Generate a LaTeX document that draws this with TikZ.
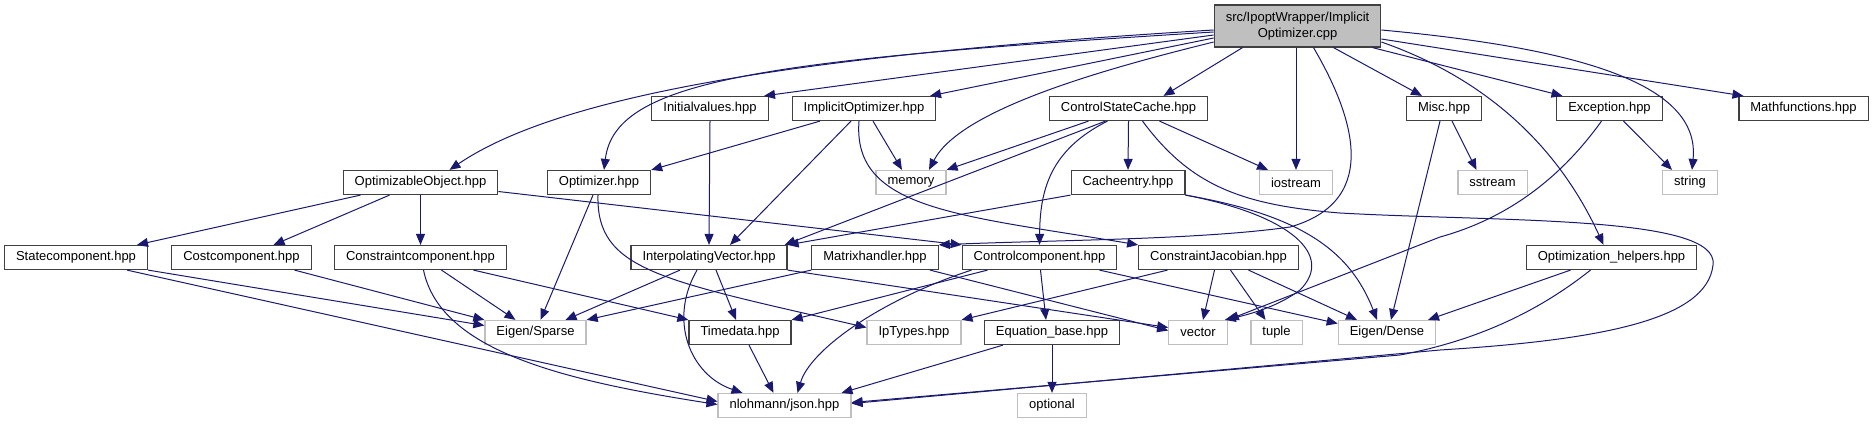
\documentclass[tikz,border=0pt]{standalone}
\usepackage{fontspec}
\setmainfont{Liberation Sans}
\usetikzlibrary{arrows.meta}
\tikzset{
    incblock/.style={rectangle, draw=#1, fill=white, line width=1.2pt, minimum height=24pt, inner xsep=11.5pt, inner ysep=0pt, font=\fontsize{13}{16}\selectfont},
    incroot/.style={incblock=hdrgray, fill=rootgray, minimum height=42pt, align=center},
    incarrow/.style={-{Triangle[length=11pt, width=9pt]}, draw=depblue, line width=1pt}
}
\definecolor{depblue}{RGB}{25,25,112}
\definecolor{hdrgray}{RGB}{64,64,64}
\definecolor{sysgray}{RGB}{191,191,191}
\definecolor{rootgray}{RGB}{191,191,191}

\begin{document}
\begin{tikzpicture}[x=1pt, y=-1pt]
\useasboundingbox (0,0) rectangle (1873,425);

\node[incroot] (root) at (1297.5,26) {src/IpoptWrapper/Implicit\\Optimizer.cpp};

\node[incblock=hdrgray] (initv) at (710,108.5) {Initialvalues.hpp};
\node[incblock=hdrgray] (implopt) at (864,108.5) {ImplicitOptimizer.hpp};
\node[incblock=hdrgray] (csc) at (1128.5,108.5) {ControlStateCache.hpp};
\node[incblock=hdrgray] (misc) at (1444,108.5) {Misc.hpp};
\node[incblock=hdrgray] (exc) at (1609.5,108.5) {Exception.hpp};
\node[incblock=hdrgray] (mathf) at (1803.5,108.5) {Mathfunctions.hpp};

\node[incblock=hdrgray] (optobj) at (420.5,182.5) {OptimizableObject.hpp};
\node[incblock=hdrgray] (optim) at (599,182.5) {Optimizer.hpp};
\node[incblock=sysgray] (memory) at (911,182.5) {memory};
\node[incblock=hdrgray] (cacheent) at (1128,182.5) {Cacheentry.hpp};
\node[incblock=sysgray] (iostream) at (1296,182.5) {iostream};
\node[incblock=sysgray] (sstream) at (1492.5,182.5) {sstream};
\node[incblock=sysgray] (string) at (1690,182.5) {string};

\node[incblock=hdrgray] (statec) at (76,257.5) {Statecomponent.hpp};
\node[incblock=hdrgray] (costc) at (241.5,257.5) {Costcomponent.hpp};
\node[incblock=hdrgray] (consc) at (420.5,257.5) {Constraintcomponent.hpp};
\node[incblock=hdrgray] (interp) at (709,257.5) {InterpolatingVector.hpp};
\node[incblock=hdrgray] (matrixh) at (875,257.5) {Matrixhandler.hpp};
\node[incblock=hdrgray] (controlc) at (1039.5,257.5) {Controlcomponent.hpp};
\node[incblock=hdrgray] (consjac) at (1218.5,257.5) {ConstraintJacobian.hpp};
\node[incblock=hdrgray] (opthelp) at (1611.5,257.5) {Optimization\_helpers.hpp};

\node[incblock=sysgray] (sparse) at (535.5,332.5) {Eigen/Sparse};
\node[incblock=hdrgray] (timed) at (740,332.5) {Timedata.hpp};
\node[incblock=sysgray] (iptypes) at (914,332.5) {IpTypes.hpp};
\node[incblock=hdrgray] (eqbase) at (1052,332.5) {Equation\_base.hpp};
\node[incblock=sysgray] (vector) at (1198,332.5) {vector};
\node[incblock=sysgray] (tuple) at (1276.5,332.5) {tuple};
\node[incblock=sysgray] (dense) at (1387,332.5) {Eigen/Dense};

\node[incblock=sysgray] (json) at (784.5,405.5) {nlohmann/json.hpp};
\node[incblock=sysgray] (optional) at (1052,405.5) {optional};

% includes of the source file
\draw[incarrow] ([yshift=-4pt]root.west) .. controls (800,55) and (560,95) .. ([xshift=29pt]optobj.north);
\draw[incarrow] ([yshift=-6pt]root.west) .. controls (760,60) and (615,80) .. ([xshift=5pt]optim.north);
\draw[incarrow] ([yshift=-9pt]root.west) -- ([xshift=54pt]initv.north);
\draw[incarrow] ([yshift=-12pt]root.west) -- ([xshift=66pt]implopt.north);
\draw[incarrow] ([yshift=-16pt]root.west) .. controls (1100,70) and (960,110) .. ([xshift=18pt]memory.north);
\draw[incarrow] ([xshift=-55pt]root.south) -- ([xshift=35pt]csc.north);
\draw[incarrow] ([xshift=-1.5pt]root.south) -- (iostream.north);
\draw[incarrow] ([xshift=16pt]root.south) .. controls (1350,110) and (1385,200) .. (1290,227) .. controls (1200,240) and (1050,240) .. (matrixh.north east);
\draw[incarrow] ([xshift=36pt]root.south) -- ([xshift=-22pt]misc.north);
\draw[incarrow] ([xshift=75pt]root.south) -- ([xshift=-47pt]exc.north);
\draw[incarrow] ([yshift=-16pt]root.east) .. controls (1490,80) and (1560,150) .. ([xshift=-8pt]opthelp.north);
\draw[incarrow] ([yshift=-13pt]root.east) -- ([xshift=-60pt]mathf.north);
\draw[incarrow] ([yshift=-4pt]root.east) .. controls (1600,50) and (1700,90) .. ([xshift=2pt]string.north);

% first level headers
\draw[incarrow] (initv.south) -- (interp.north);
\draw[incarrow] ([xshift=-44pt]implopt.south) -- (optim.north east);
\draw[incarrow] ([xshift=-13pt]implopt.south) -- ([xshift=21pt]interp.north);
\draw[incarrow] ([xshift=-5pt]implopt.south) .. controls (852,210) and (960,215) .. (consjac.north west);
\draw[incarrow] ([xshift=9pt]implopt.south) -- ([xshift=-9pt]memory.north);
\draw[incarrow] ([xshift=-40pt]csc.south) -- (memory.north east);
\draw[incarrow] ([xshift=-23pt]csc.south) -- ([xshift=-3pt]interp.north east);
\draw[incarrow] ([xshift=-21pt]csc.south) .. controls (1050,150) and (1040,190) .. (controlc.north);
\draw[incarrow] (csc.south) -- (cacheent.north);
\draw[incarrow] ([xshift=14pt]csc.south) .. controls (1190,185) and (1240,205) .. (1340,213) .. controls (1500,222) and (1720,215) .. (1713,265) .. controls (1707,320) and (1600,340) .. (1440,350) -- ([yshift=2pt]json.east);
\draw[incarrow] ([xshift=31pt]csc.south) -- ([xshift=-28pt]iostream.north);
\draw[incarrow] ([xshift=-4pt]misc.south) -- ([xshift=4pt]dense.north);
\draw[incarrow] ([xshift=8pt]misc.south) -- ([xshift=-16pt]sstream.north);
\draw[incarrow] ([xshift=14pt]exc.south) -- ([xshift=-18pt]string.north);
\draw[incarrow] ([xshift=-8pt]exc.south) .. controls (1570,165) and (1520,215) .. (1440,237) -- (vector.north east);

% second level headers
\draw[incarrow] ([xshift=-60pt]optobj.south) -- ([xshift=61pt]statec.north);
\draw[incarrow] ([xshift=-31pt]optobj.south) -- ([xshift=32pt]costc.north);
\draw[incarrow] (optobj.south) -- (consc.north);
\draw[incarrow] ([yshift=-9pt]optobj.east) -- (controlc.north west);
\draw[incarrow] ([xshift=-6pt]optim.south) -- ([xshift=5pt]sparse.north);
\draw[incarrow] ([xshift=-1pt]optim.south) .. controls (596,270) and (660,280) .. ([yshift=5pt]iptypes.west);
\draw[incarrow] (cacheent.south west) -- (interp.north east);
\draw[incarrow] (cacheent.south east) .. controls (1290,215) and (1335,255) .. (1300,290) .. controls (1280,305) and (1255,313) .. ([xshift=-3pt]vector.north east);
\draw[incarrow] (cacheent.south east) .. controls (1300,215) and (1350,250) .. ([xshift=-10pt]dense.north);

% third level headers
\draw[incarrow] (statec.south east) -- ([yshift=7pt]sparse.west);
\draw[incarrow] ([xshift=51pt]statec.south) -- ([yshift=4pt]json.west);
\draw[incarrow] ([xshift=53pt]costc.south) -- (sparse.north west);
\draw[incarrow] ([xshift=21pt]consc.south) -- ([xshift=-20pt]sparse.north);
\draw[incarrow] ([xshift=53pt]consc.south) -- (timed.north west);
\draw[incarrow] ([xshift=3pt]consc.south) .. controls (440,350) and (560,380) .. ([yshift=1pt]json.west);
\draw[incarrow] ([xshift=-29pt]interp.south) -- ([xshift=30pt]sparse.north);
\draw[incarrow] ([xshift=7pt]interp.south) -- ([xshift=-4pt]timed.north);
\draw[incarrow] ([xshift=-12pt]interp.south) .. controls (668,320) and (690,375) .. ([xshift=-42pt]json.north);
\draw[incarrow] (interp.south east) -- ([yshift=5pt]vector.west);
\draw[incarrow] (matrixh.south west) -- (sparse.north east);
\draw[incarrow] ([xshift=55pt]matrixh.south) -- ([yshift=2pt]vector.west);
\draw[incarrow] ([xshift=-52pt]controlc.south) -- (timed.north east);
\draw[incarrow] ([xshift=-68pt]controlc.south) .. controls (880,300) and (810,350) .. ([xshift=13pt]json.north);
\draw[incarrow] ([xshift=1pt]controlc.south) -- ([xshift=-6pt]eqbase.north);
\draw[incarrow] ([xshift=60pt]controlc.south) -- ([yshift=9pt]dense.west);
\draw[incarrow] ([xshift=-51pt]consjac.south) -- (iptypes.north east);
\draw[incarrow] ([xshift=-4pt]consjac.south) -- ([xshift=5pt]vector.north);
\draw[incarrow] ([xshift=12pt]consjac.south) -- ([xshift=-11pt]tuple.north);
\draw[incarrow] ([xshift=30pt]consjac.south) -- ([xshift=-30pt]dense.north);
\draw[incarrow] ([xshift=-41pt]opthelp.south) -- ([xshift=41pt]dense.north);
\draw[incarrow] ([xshift=-21pt]opthelp.south) .. controls (1540,310) and (1480,340) .. (1400,355) -- ([yshift=3pt]json.east);

% last level
\draw[incarrow] ([xshift=9pt]timed.south) -- ([xshift=-11pt]json.north);
\draw[incarrow] ([xshift=-49pt]eqbase.south) -- ([xshift=57pt]json.north);
\draw[incarrow] (eqbase.south) -- (optional.north);

\end{tikzpicture}
\end{document}
